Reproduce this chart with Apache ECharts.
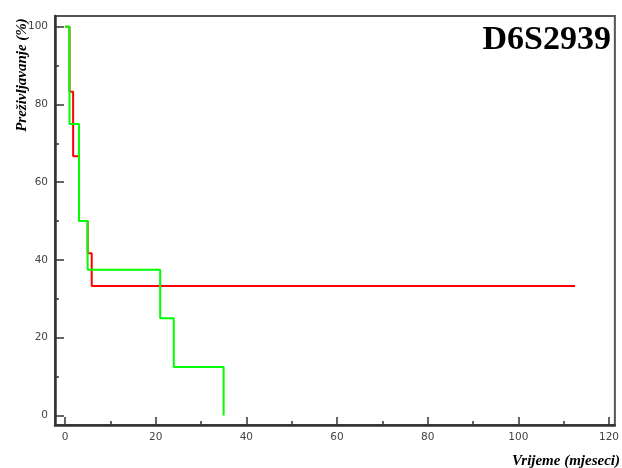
<!DOCTYPE html>
<html>
<head>
<meta charset="utf-8">
<script src="https://cdn.jsdelivr.net/npm/echarts@6/dist/echarts.min.js"></script>
<style>html,body{margin:0;padding:0;background:#fff}#chart{width:622px;height:468px}</style>
</head>
<body>
<div id="chart"></div>
<script>
const redTimes = [0, 1, 1.8, 3.1, 5, 5.9, 112.5];
const redSurv = [100, 83.3, 66.7, 50, 41.7, 33.3, 33.3];
const greenTimes = [0, 1, 3.1, 5, 21, 24, 35];
const greenSurv = [100, 75, 50, 37.5, 25, 12.5, 0];
const xMajor = [0, 20, 40, 60, 80, 100, 120];
const xMinor = [10, 30, 50, 70, 90, 110];
const yMajor = [0, 20, 40, 60, 80, 100];
const yMinor = [10, 30, 50, 70, 90];
const chartTitle = 'D6S2939';
const xTitle = 'Vrijeme (mjeseci)';
const yTitle = 'Preživljavanje (%)';

const pairs = (t, s) => t.map((v, i) => [v, s[i]]);
const chart = echarts.init(document.getElementById('chart'));
const X_MIN = -2.2, X_MAX = 121.3, Y_MIN = -2.44, Y_MAX = 102.75;
const labelFont = {fontFamily: 'DejaVu Sans', fontSize: 10.5, color: '#444'};
chart.setOption({
  animation: false,
  grid: {left: 55, right: 5, top: 16, bottom: 43, show: true, borderColor: '#555', borderWidth: 2},
  xAxis: [
    {type: 'value', min: X_MIN, max: X_MAX, position: 'bottom', offset: 0,
     axisLine: {show: true, onZero: false, lineStyle: {color: '#333', width: 2.5}},
     axisTick: {show: true, inside: true, length: 8, customValues: xMajor, lineStyle: {color: '#333', width: 1.5}},
     axisLabel: {show: true, customValues: xMajor, margin: 7, ...labelFont},
     splitLine: {show: false}},
    {type: 'value', min: X_MIN, max: X_MAX, position: 'bottom', offset: 0,
     axisLine: {show: false, onZero: false},
     axisTick: {show: true, inside: true, length: 4, customValues: xMinor, lineStyle: {color: '#333', width: 1.5}},
     axisLabel: {show: false}, splitLine: {show: false}}
  ],
  yAxis: [
    {type: 'value', min: Y_MIN, max: Y_MAX, position: 'left', offset: 0,
     axisLine: {show: true, onZero: false, lineStyle: {color: '#333', width: 2.5}},
     axisTick: {show: true, inside: true, length: 9, customValues: yMajor, lineStyle: {color: '#333', width: 1.5}},
     axisLabel: {show: true, customValues: yMajor, margin: 7, ...labelFont},
     splitLine: {show: false}},
    {type: 'value', min: Y_MIN, max: Y_MAX, position: 'left', offset: 0,
     axisLine: {show: false, onZero: false},
     axisTick: {show: true, inside: true, length: 4, customValues: yMinor, lineStyle: {color: '#333', width: 1.5}},
     axisLabel: {show: false}, splitLine: {show: false}}
  ],
  series: [
    {type: 'line', step: 'end', data: pairs(redTimes, redSurv), showSymbol: false,
     lineStyle: {color: '#ff0000', width: 2}, itemStyle: {color: '#ff0000'}},
    {type: 'line', step: 'end', data: pairs(greenTimes, greenSurv), showSymbol: false,
     lineStyle: {color: '#00ff00', width: 2}, itemStyle: {color: '#00ff00'}}
  ],
  graphic: [
    {type: 'text', x: 611, y: 40, style: {text: chartTitle, fontFamily: 'Liberation Serif', fontWeight: 'bold', fontSize: 34, fill: '#000', textAlign: 'right', textVerticalAlign: 'middle'}},
    {type: 'text', x: 620, y: 461, style: {text: xTitle, fontFamily: 'Liberation Serif', fontWeight: 'bold', fontStyle: 'italic', fontSize: 15, fill: '#000', textAlign: 'right', textVerticalAlign: 'middle'}},
    {type: 'text', x: 22, y: 75, rotation: Math.PI / 2, style: {text: yTitle, fontFamily: 'Liberation Serif', fontWeight: 'bold', fontStyle: 'italic', fontSize: 15, fill: '#000', textAlign: 'center', textVerticalAlign: 'middle'}}
  ]
});
</script>
</body>
</html>
